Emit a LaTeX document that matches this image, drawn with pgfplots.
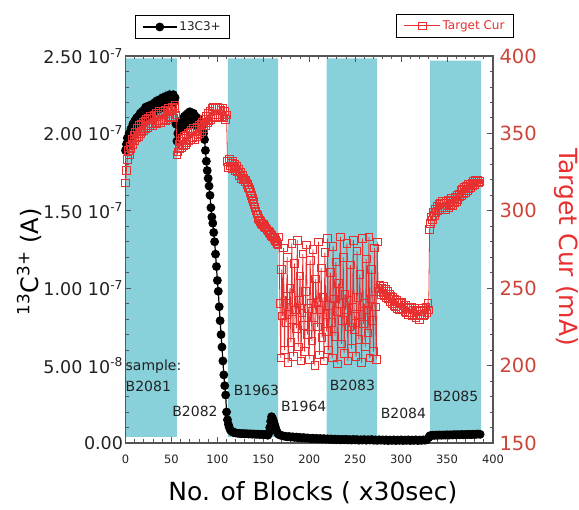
\documentclass[border=0pt]{standalone}
\usepackage{fontspec}
\setmainfont{DejaVu Sans}
\usepackage{pgfplots}
\pgfplotsset{compat=1.18}
\usetikzlibrary{calc}

\definecolor{band}{RGB}{137,209,218}
\definecolor{cur}{RGB}{232,48,48}
\definecolor{curtick}{RGB}{204,68,56}
\definecolor{ink}{RGB}{34,34,34}
\definecolor{frame}{RGB}{85,85,85}

\begin{document}
\begin{tikzpicture}
% left axis: 13C3+ beam current (in units of 1e-7 A)
\begin{axis}[name=main,scale only axis,width=367.5pt,height=387pt,
  xmin=0,xmax=400,ymin=0,ymax=2.5,clip=false,axis on top,
  axis line style={frame,line width=1.1pt},
  xtick={0,50,...,400},minor x tick num=4,
  ytick={0,0.5,1,1.5,2,2.5},minor y tick num=4,ytick pos=left,
  yticklabels={0.00,5.00 10\textsuperscript{-8},1.00 10\textsuperscript{-7},1.50 10\textsuperscript{-7},2.00 10\textsuperscript{-7},2.50 10\textsuperscript{-7}},
  tick align=inside,major tick length=6pt,minor tick length=3.5pt,
  tick style={frame,line width=0.9pt},
  /pgf/number format/assume math mode=true,
  x tick label style={font=\fontsize{11.5}{12}\selectfont,text=ink,yshift=-8pt},
  y tick label style={font=\fontsize{17.5}{18}\selectfont,text=ink,xshift=1pt},
  xlabel={No. of Blocks ( x30sec)},
  xlabel style={font=\fontsize{25}{26}\selectfont,text=black,at={(axis description cs:0.51,-0.129)},anchor=center},
  ylabel={\textsuperscript{13}C\textsuperscript{3+} (A)},
  ylabel style={font=\fontsize{24}{25}\selectfont,text=black,at={(axis description cs:-0.262,0.468)},anchor=center},
  legend style={draw=black,line width=0.8pt,fill=white,text=ink,font=\fontsize{12}{12}\selectfont,
    at={(axis description cs:0.155,1.075)},anchor=center,inner xsep=7pt,inner ysep=4pt},
  legend image code/.code={\draw[mark repeat=2,mark phase=2,#1] plot coordinates {(0pt,0pt) (17pt,0pt) (34pt,0pt)};}]
% sample bands
\addplot[fill=band,draw=none,forget plot] coordinates {(0,0.04) (56,0.04) (56,2.485) (0,2.485) (0,0.04)};
\addplot[fill=band,draw=none,forget plot] coordinates {(111.5,0.04) (166,0.04) (166,2.485) (111.5,2.485) (111.5,0.04)};
\addplot[fill=band,draw=none,forget plot] coordinates {(219,0.04) (274,0.04) (274,2.485) (219,2.485) (219,0.04)};
\addplot[fill=band,draw=none,forget plot] coordinates {(331.5,0.04) (387,0.04) (387,2.47) (331.5,2.47) (331.5,0.04)};
\addplot[black,line width=1.2pt,mark=*,mark size=3.8pt,mark options={solid,fill=black}] coordinates {
(0,1.89) (1,1.93) (2,1.97) (3,1.92) (4,2.00) (5,1.96) (6,2.03) (7,1.98) (8,2.06) (9,2.01) (10,2.08) (11,2.03) (12,2.10) (13,2.05) (14,2.11) (15,2.06) (16,2.13) (17,2.08) (18,2.14) (19,2.09) (20,2.15) (21,2.10) (22,2.17) (23,2.11) (24,2.16) (25,2.12) (26,2.18) (27,2.13) (28,2.17) (29,2.14) (30,2.19) (31,2.14) (32,2.20) (33,2.15) (34,2.21) (35,2.16) (36,2.20) (37,2.16) (38,2.22) (39,2.17) (40,2.23) (41,2.18) (42,2.22) (43,2.17) (44,2.24) (45,2.19) (46,2.23) (47,2.20) (48,2.25) (49,2.19) (50,2.24) (51,2.20) (52,2.25) (53,2.21) (54,2.23) (55,2.06)
(56,1.95) (57,2.00) (58,2.05) (59,2.02) (60,2.08) (61,2.03) (62,2.09) (63,2.04) (64,2.11) (65,2.06) (66,2.12) (67,2.05) (68,2.13) (69,2.07) (70,2.14) (71,2.08) (72,2.12) (73,2.06) (74,2.13) (75,2.07) (76,2.11) (77,2.05) (78,2.10) (79,2.04) (80,2.09) (81,2.03) (82,2.07) (83,2.02) (84,2.05) (85,2.00)
(86,1.96) (87,1.89) (88,1.82) (89,1.76) (90,1.71) (91,1.66) (92,1.60) (93,1.52) (94,1.46) (95,1.42) (96,1.36) (97,1.30) (98,1.22) (99,1.14) (100,1.05) (101,0.98) (102,0.88) (103,0.79) (104,0.70) (105,0.62) (106,0.53) (107,0.44) (108,0.37) (109,0.31) (110,0.20) (111,0.15) (112,0.12) (113,0.10) (114,0.085) (115,0.078) (116,0.074) (117,0.070) (118,0.068) (119,0.066) (120,0.065)
(122,0.063) (124,0.062) (126,0.060) (128,0.061) (130,0.059) (132,0.060) (134,0.058) (136,0.059) (138,0.057) (140,0.058) (142,0.056) (144,0.057) (146,0.055) (148,0.056) (150,0.054) (152,0.055) (154,0.053) (155,0.050) (156,0.065) (157,0.100) (158,0.140) (159,0.170) (160,0.160) (161,0.145) (162,0.125) (163,0.105) (164,0.085) (165,0.070) (166,0.060) (167,0.055) (168,0.052)
(170,0.048) (172,0.045) (174,0.043) (176,0.040) (178,0.042) (180,0.038) (182,0.040) (184,0.036) (186,0.038) (188,0.034) (190,0.036) (192,0.032) (194,0.035) (196,0.031) (198,0.033) (200,0.030) (202,0.028) (204,0.031) (206,0.027) (208,0.030) (210,0.026) (212,0.029) (214,0.025) (216,0.028) (218,0.024) (220,0.027) (222,0.023) (224,0.026) (226,0.022) (228,0.025) (230,0.021) (232,0.024) (234,0.020) (236,0.023) (238,0.021) (240,0.024) (242,0.020) (244,0.022) (246,0.019) (248,0.023) (250,0.020)
(252,0.022) (254,0.018) (256,0.021) (258,0.019) (260,0.022) (262,0.018) (264,0.021) (266,0.019) (268,0.022) (270,0.018) (272,0.020) (274,0.017) (276,0.021) (278,0.018) (280,0.020) (282,0.017) (284,0.020) (286,0.016) (288,0.019) (290,0.017) (292,0.020) (294,0.016) (296,0.019) (298,0.017) (300,0.020) (302,0.016) (304,0.019) (306,0.017) (308,0.020) (310,0.016) (312,0.019) (314,0.017) (316,0.020) (318,0.016) (320,0.019) (322,0.017) (324,0.020) (326,0.018) (328,0.021)
(330,0.035) (331,0.045) (332,0.048) (334,0.050) (336,0.049) (338,0.051) (340,0.050) (342,0.052) (344,0.050) (346,0.052) (348,0.051) (350,0.053) (352,0.051) (354,0.053) (356,0.052) (358,0.054) (360,0.052) (362,0.054) (364,0.053) (366,0.055) (368,0.053) (370,0.055) (372,0.054) (374,0.056) (376,0.054) (378,0.056) (380,0.055) (382,0.057) (384,0.058) (386,0.056)
};
\legend{13C3+}
% sample names
\node[font=\fontsize{14}{14}\selectfont,text=ink,anchor=west,inner sep=0pt] at (axis cs:0,0.493) {sample:};
\node[font=\fontsize{14}{14}\selectfont,text=ink,anchor=west,inner sep=0pt] at (axis cs:0,0.364) {B2081};
\node[font=\fontsize{14}{14}\selectfont,text=ink,inner sep=0pt] at (axis cs:75.6,0.202) {B2082};
\node[font=\fontsize{14}{14}\selectfont,text=ink,inner sep=0pt] at (axis cs:142.5,0.342) {B1963};
\node[font=\fontsize{14}{14}\selectfont,text=ink,inner sep=0pt] at (axis cs:194,0.234) {B1964};
\node[font=\fontsize{14}{14}\selectfont,text=ink,inner sep=0pt] at (axis cs:247,0.375) {B2083};
\node[font=\fontsize{14}{14}\selectfont,text=ink,inner sep=0pt] at (axis cs:302.5,0.194) {B2084};
\node[font=\fontsize{14}{14}\selectfont,text=ink,inner sep=0pt] at (axis cs:359.4,0.304) {B2085};
\end{axis}
% right axis: target current (mA)
\begin{axis}[scale only axis,width=367.5pt,height=387pt,
  xmin=0,xmax=400,ymin=150,ymax=400,clip=false,
  axis x line=none,axis y line*=right,
  axis line style={frame,line width=1.1pt},
  ytick={150,200,...,400},minor y tick num=4,
  tick align=inside,major tick length=6pt,minor tick length=3.5pt,
  tick style={frame,line width=0.9pt},
  /pgf/number format/assume math mode=true,
  y tick label style={font=\fontsize{19.5}{20}\selectfont,text=curtick,xshift=3pt},
  ylabel={Target Cur (mA)},
  ylabel style={font=\fontsize{25}{26}\selectfont,text=cur,rotate=180,at={(axis description cs:1.199,0.506)},anchor=center},
  legend style={draw=black,line width=0.8pt,fill=white,text=cur,font=\fontsize{12}{12}\selectfont,
    at={(axis description cs:0.897,1.078)},anchor=center,inner xsep=7pt,inner ysep=4pt},
  legend image code/.code={\draw[mark repeat=2,mark phase=2,#1] plot coordinates {(0pt,0pt) (18pt,0pt) (36pt,0pt)};}]
\addplot[cur,line width=0.8pt,mark=square,mark size=3.8pt,mark options={solid,line width=0.9pt}] coordinates {
(0,318) (1,326) (2,333) (3,339) (4,336) (5,342) (6,340) (7,346) (8,343) (9,349) (10,345) (11,351) (12,347) (13,353) (14,348) (15,355) (16,350) (17,356) (18,351) (19,357) (20,352) (21,358) (22,353) (23,359) (24,354) (25,360) (26,355) (27,361) (28,356) (29,360) (30,355) (31,362) (32,357) (33,363) (34,356) (35,362) (36,358) (37,364) (38,357) (39,363) (40,358) (41,364) (42,359) (43,365) (44,358) (45,364) (46,359) (47,366) (48,360) (49,365) (50,361) (51,367) (52,360) (53,366) (54,368) (55,362)
(56,336) (57,338) (58,343) (59,340) (60,345) (61,341) (62,347) (63,342) (64,348) (65,343) (66,349) (67,344) (68,350) (69,345) (70,351) (71,346) (72,352) (73,347) (74,353) (75,346) (76,352) (77,348) (78,354) (79,349) (80,355) (81,350) (82,356) (83,351) (84,357) (85,353) (86,359) (87,355) (88,361) (89,357) (90,363) (91,358) (92,364) (93,359) (94,366) (95,361) (96,367) (97,360) (98,366) (99,362) (100,367) (101,361) (102,366) (103,360) (104,365) (105,361) (106,366) (107,360) (108,364) (109,359) (110,362)
(111,332) (112,328) (113,333) (114,329) (115,331) (116,327) (117,332) (118,328) (119,330) (120,326) (121,329) (122,325) (123,327) (124,323) (125,325) (126,321) (127,323) (128,320) (129,321) (130,319) (131,320) (132,318) (133,317) (134,315) (135,314) (136,312) (137,310) (138,308) (139,306) (140,304) (141,302) (142,300) (143,298) (144,297) (145,295) (146,294) (147,293) (148,292) (149,291) (150,291) (151,290) (152,289) (153,289) (154,288) (155,287) (156,287) (157,286) (158,285) (159,284) (160,283) (161,283) (162,282) (163,281) (164,280) (165,279) (166,278)
(167,283) (168,240) (169,205) (170,262) (171,232) (172,276) (173,210) (174,245) (175,228) (176,270) (177,202) (178,238) (179,250) (180,215) (181,279) (182,230) (183,206) (184,266) (185,236) (186,224) (187,281) (188,212) (189,242) (190,258) (191,203) (192,234) (193,272) (194,226) (195,209) (196,248) (197,278) (198,220) (199,237) (200,204) (201,268) (202,240) (203,216) (204,275) (205,231) (206,200) (207,256) (208,241) (209,225) (210,280) (211,207) (212,236) (213,263) (214,218) (215,244) (216,203) (217,273) (218,233) (219,222) (220,282)
(221,210) (222,239) (223,260) (224,228) (225,205) (226,277) (227,243) (228,219) (229,267) (230,235) (231,201) (232,253) (233,240) (234,283) (235,214) (236,229) (237,270) (238,208) (239,246) (240,236) (241,279) (242,203) (243,242) (244,225) (245,265) (246,211) (247,238) (248,281) (249,223) (250,232) (251,206) (252,274) (253,244) (254,217) (255,259) (256,233) (257,202) (258,282) (259,227) (260,240) (261,212) (262,269) (263,236) (264,221) (265,283) (266,205) (267,243) (268,262) (269,229) (270,209) (271,276) (272,238) (273,204) (274,280)
(275,250) (276,248) (277,252) (278,246) (279,250) (280,247) (281,251) (282,245) (283,249) (284,244) (285,248) (286,243) (287,246) (288,241) (289,245) (290,240) (291,244) (292,239) (293,243) (294,238) (295,242) (296,237) (297,241) (298,236) (299,240) (300,237) (301,241) (302,236) (303,239) (304,235) (305,239) (306,234) (307,238) (308,233) (309,237) (310,234) (311,238) (312,232) (313,236) (314,233) (315,237) (316,231) (317,235) (318,232) (319,236) (320,230) (321,235) (322,233) (323,237) (324,232) (325,236) (326,233) (327,238) (328,234) (329,240) (330,236)
(331,288) (332,292) (333,296) (334,294) (335,299) (336,297) (337,301) (338,299) (339,303) (340,300) (341,304) (342,301) (343,305) (344,302) (345,306) (346,302) (347,305) (348,301) (349,306) (350,303) (351,307) (352,302) (353,306) (354,304) (355,308) (356,303) (357,307) (358,305) (359,309) (360,306) (361,310) (362,307) (363,311) (364,309) (365,313) (366,310) (367,314) (368,311) (369,315) (370,312) (371,316) (372,313) (373,317) (374,314) (375,317) (376,315) (377,318) (378,316) (379,319) (380,317) (381,320) (382,318) (383,320) (384,318) (385,319)
};
\legend{Target Cur}
\end{axis}
\pgfresetboundingbox
\path[use as bounding box] ($(main.south west)+(-125.5pt,-67pt)$) rectangle ($(main.north east)+(86pt,56pt)$);
\end{tikzpicture}
\end{document}
